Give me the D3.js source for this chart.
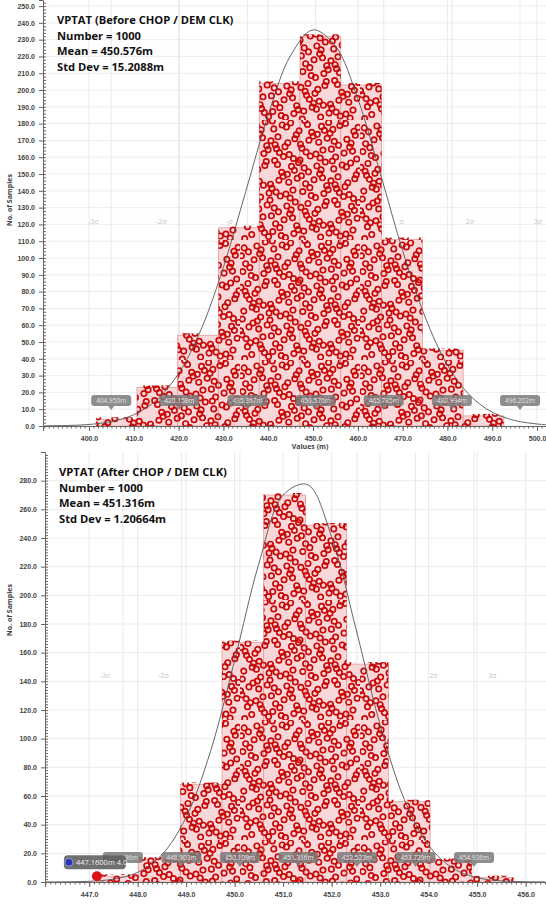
<!DOCTYPE html>
<html>
<head>
<meta charset="utf-8">
<script src="https://cdn.jsdelivr.net/npm/d3@7"></script>
<style>
  body { margin: 0; background: #fff; }
  svg { display: block; font-family: "Open Sans", "Noto Sans", sans-serif; }
  .tick text { font-size: 7px; font-weight: bold; fill: #444; }
  .domain { stroke: #666; }
  .tick line { stroke: #666; }
</style>
</head>
<body>
<div id="chart"></div>
<script>
// ---- top panel: before chop ----
const topTitle = ['VPTAT (Before CHOP / DEM CLK)', 'Number = 1000', 'Mean = 450.576m', 'Std Dev = 15.2088m'];
const topEdges = [401.6, 410.7, 419.8, 428.9, 438.0, 447.1, 456.2, 465.3, 474.4, 483.5, 492.6];
const topCounts = [4, 23, 54, 118, 204, 232, 203, 111, 45, 6];
const topCurveX = [390, 395, 400, 405, 410, 415, 420, 425, 430, 435, 440, 445, 450, 455, 460, 465, 470, 475, 480, 485, 490, 495, 500, 502];
const topCurveY = [0.1, 0.3, 0.9, 2.7, 6.7, 15.3, 31.3, 57.4, 94.5, 139.7, 185.2, 220.6, 235.8, 226.2, 194.8, 150.5, 104.4, 65.0, 36.3, 18.2, 8.2, 3.3, 1.2, 0.8];
const topMarks = [404.950, 420.158, 435.367, 450.576, 465.785, 480.994, 496.202];
const topXTicks = [400, 410, 420, 430, 440, 450, 460, 470, 480, 490, 500];

// ---- bottom panel: after chop ----
const botTitle = ['VPTAT (After CHOP / DEM CLK)', 'Number = 1000', 'Mean = 451.316m', 'Std Dev = 1.20664m'];
const botEdges = [447.16, 448.02, 448.88, 449.74, 450.60, 451.46, 452.31, 453.17, 454.03, 454.89, 455.75];
const botCounts = [4, 16, 68, 167, 270, 249, 152, 56, 15, 3];
const botCurveX = [446.1, 446.5, 447.0, 447.5, 448.0, 448.5, 449.0, 449.5, 450.0, 450.5, 451.0, 451.5, 452.0, 452.5, 453.0, 453.5, 454.0, 454.5, 455.0, 455.5, 456.0, 456.4];
const botCurveY = [0.0, 0.1, 0.5, 2.0, 6.7, 19.0, 45.2, 90.9, 154.6, 222.2, 269.9, 277.3, 240.8, 176.8, 109.7, 57.5, 25.5, 9.6, 3.0, 0.8, 0.2, 0.05];
const botMarks = [447.696, 448.903, 450.109, 451.316, 452.523, 453.729, 454.936];
const botXTicks = [447, 448, 449, 450, 451, 452, 453, 454, 455, 456];
const botPick = { x: 447.16, y: 4, label: '447.1600m 4.0' };

const sigmaLabels = ['-3σ', '-2σ', '-σ', '', 'σ', '2σ', '3σ'];

const W = 546, H = 904;
const svg = d3.select('#chart').append('svg').attr('width', W).attr('height', H);

// ring texture standing in for the individual sample dots
function halton(i, b) {
  let f = 1, r = 0;
  while (i > 0) { f /= b; r += f * (i % b); i = Math.floor(i / b); }
  return r;
}
const defs = svg.append('defs');
const pat = defs.append('pattern').attr('id', 'rings')
  .attr('patternUnits', 'userSpaceOnUse')
  .attr('width', 120).attr('height', 120);
for (let i = 1; i <= 215; i++) {
  pat.append('circle')
    .attr('cx', halton(i, 2) * 120).attr('cy', halton(i, 3) * 120)
    .attr('r', 2.7).attr('fill', 'none')
    .attr('stroke', '#c80808').attr('stroke-width', 1.7);
}

function drawPanel(cfg) {
  const g = svg.append('g');
  const x = d3.scaleLinear().domain(cfg.xDomain).range([cfg.left, W]);
  const y = d3.scaleLinear().domain(cfg.yDomain).range([cfg.bottom, cfg.top]);
  g.append('clipPath').attr('id', 'clip' + cfg.id)
    .append('rect').attr('x', cfg.left).attr('y', cfg.top)
    .attr('width', W - cfg.left).attr('height', cfg.bottom - cfg.top);
  const plot = g.append('g').attr('clip-path', `url(#clip${cfg.id})`);

  // grid
  plot.append('g').selectAll('line').data(cfg.yGrid).join('line')
    .attr('x1', cfg.left).attr('x2', W)
    .attr('y1', d => y(d)).attr('y2', d => y(d))
    .attr('stroke', '#e8e8e8').attr('stroke-width', 0.8);
  plot.append('g').selectAll('line').data(cfg.xGrid.concat(cfg.marks)).join('line')
    .attr('x1', d => x(d)).attr('x2', d => x(d))
    .attr('y1', cfg.top).attr('y2', cfg.bottom)
    .attr('stroke', '#e4e4e4').attr('stroke-width', 0.8);

  // sigma names, sitting behind the bars
  plot.append('g').selectAll('text').data(cfg.marks).join('text')
    .attr('x', (d, i) => x(d) + (i < 3 ? -18 : 18))
    .attr('y', cfg.sigmaY)
    .attr('text-anchor', 'middle')
    .attr('font-size', 7).attr('fill', '#c4c4c4')
    .text((d, i) => sigmaLabels[i]);

  // bars
  const bins = cfg.counts.map((c, i) => ({ x0: cfg.edges[i], x1: cfg.edges[i + 1], c }));
  plot.append('g').selectAll('rect').data(bins).join('rect')
    .attr('x', d => x(d.x0)).attr('width', d => x(d.x1) - x(d.x0))
    .attr('y', d => y(d.c)).attr('height', d => y(0) - y(d.c))
    .attr('fill', '#fad8da').attr('stroke', '#e49a9c').attr('stroke-width', 0.8);
  plot.append('g').selectAll('rect').data(bins).join('rect')
    .attr('x', d => x(d.x0)).attr('width', d => x(d.x1) - x(d.x0))
    .attr('y', d => y(d.c) - 2).attr('height', d => y(0) - y(d.c) + 2)
    .attr('fill', 'url(#rings)');

  // fitted curve
  const line = d3.line().x(d => x(d[0])).y(d => y(d[1])).curve(d3.curveCatmullRom);
  plot.append('path').datum(d3.zip(cfg.curveX, cfg.curveY))
    .attr('d', line).attr('fill', 'none')
    .attr('stroke', '#555').attr('stroke-width', 0.9);

  // marker value boxes
  const mk = plot.append('g').selectAll('g').data(cfg.marks).join('g')
    .attr('transform', d => `translate(${x(d)},${cfg.markY})`);
  mk.append('rect').attr('x', -20).attr('y', -6).attr('width', 40).attr('height', 11)
    .attr('rx', 3).attr('fill', '#7a7a7a').attr('opacity', 0.85);
  mk.append('path').attr('d', 'M-3,5L0,9L3,5Z').attr('fill', '#7a7a7a').attr('opacity', 0.85);
  mk.append('text').attr('y', 2.4).attr('text-anchor', 'middle')
    .attr('font-size', 6.5).attr('fill', '#e2e2e2')
    .text(d => d.toFixed(3) + 'm');

  // axes
  const yAxis = g.append('g').attr('transform', `translate(${cfg.left},0)`);
  yAxis.call(d3.axisLeft(y).tickValues(cfg.yTicks).tickSize(4).tickFormat(d3.format('.1f')));
  yAxis.append('g').call(d3.axisRight(y).tickValues(cfg.yMinor).tickSize(3).tickFormat(''))
    .call(s => s.select('.domain').remove());
  yAxis.selectAll('.tick text').attr('dx', -1);

  const xAxis = g.append('g').attr('transform', `translate(0,${cfg.bottom})`);
  xAxis.call(d3.axisBottom(x).tickValues(cfg.xTicks).tickSize(5).tickFormat(d3.format('.1f')));
  xAxis.append('g').call(d3.axisBottom(x).tickValues(cfg.xMinor).tickSize(2.5).tickFormat(''))
    .call(s => s.select('.domain').remove());
  xAxis.selectAll('.tick text').attr('dy', '0.95em');

  g.append('text')
    .attr('transform', `translate(12,${cfg.yTitleAt}) rotate(-90)`)
    .attr('text-anchor', 'middle').attr('font-size', 7).attr('font-weight', 'bold')
    .attr('fill', '#444').text('No. of Samples');

  g.append('g').selectAll('text').data(cfg.title).join('text')
    .attr('x', cfg.left + 14).attr('y', (d, i) => cfg.titleY + i * 15.5)
    .attr('font-size', 11.2).attr('font-weight', 'bold').attr('fill', '#111')
    .text(d => d);

  return { g, x, y };
}

const topPanel = drawPanel({
  id: 'a', left: 43, top: 0, bottom: 426,
  xDomain: [389.73, 502.0], yDomain: [0, 253.6],
  edges: topEdges, counts: topCounts, curveX: topCurveX, curveY: topCurveY,
  marks: topMarks, markY: 401, sigmaY: 224,
  xTicks: topXTicks, xMinor: d3.range(390, 503, 1), xGrid: d3.range(400, 501, 20),
  yTicks: d3.range(0, 251, 10), yMinor: d3.range(0, 254, 2), yGrid: d3.range(0, 251, 10),
  title: topTitle, titleY: 24, yTitleAt: 200
});
topPanel.g.append('text').attr('x', 310).attr('y', 449)
  .attr('text-anchor', 'middle').attr('font-size', 7).attr('font-weight', 'bold')
  .attr('fill', '#444').text('Values (m)');

const botPanel = drawPanel({
  id: 'b', left: 45, top: 452, bottom: 882,
  xDomain: [446.09, 456.42], yDomain: [0, 300],
  edges: botEdges, counts: botCounts, curveX: botCurveX, curveY: botCurveY,
  marks: botMarks, markY: 858, sigmaY: 678,
  xTicks: botXTicks, xMinor: d3.range(446.1, 456.42, 0.1), xGrid: botXTicks,
  yTicks: d3.range(0, 281, 20), yMinor: d3.range(0, 300, 2), yGrid: d3.range(0, 281, 20),
  title: botTitle, titleY: 476, yTitleAt: 610
});

// picked sample marker in the lower panel
const px = botPanel.x(botPick.x), py = botPanel.y(botPick.y);
botPanel.g.append('circle').attr('cx', px).attr('cy', py).attr('r', 5).attr('fill', '#dd1111');
const tag = botPanel.g.append('g').attr('transform', `translate(${px - 33},${py - 21})`);
tag.append('rect').attr('width', 62).attr('height', 14).attr('rx', 4)
  .attr('fill', '#5c5c5c').attr('opacity', 0.88);
tag.append('circle').attr('cx', 5).attr('cy', 7).attr('r', 4).attr('fill', '#2a35b8')
  .attr('stroke', '#c8ccf0').attr('stroke-width', 0.6);
tag.append('text').attr('x', 12).attr('y', 9.8).attr('font-size', 7.5)
  .attr('fill', '#f0f0f0').text(botPick.label);
</script>
</body>
</html>
